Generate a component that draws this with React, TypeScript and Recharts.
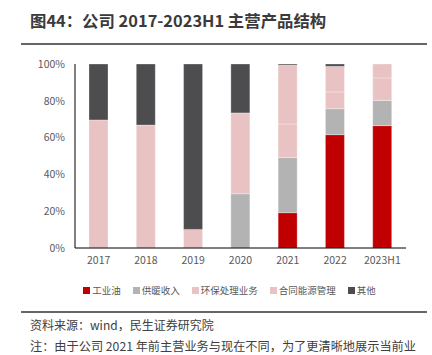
import { BarChart, Bar, XAxis, YAxis } from "recharts";

const years = ["2017", "2018", "2019", "2020", "2021", "2022", "2023H1"];
const industrialOil = [0, 0, 0, 0, 19.2, 61.6, 66.5];
const heating = [0, 0, 0, 29.5, 30.0, 14.1, 13.7];
const envTreatment = [69.6, 66.8, 10.1, 43.9, 18.2, 9.1, 12.2];
const energyContract = [0, 0, 0, 0, 32.0, 13.9, 7.6];
const others = [30.4, 33.2, 89.9, 26.6, 0.6, 1.3, 0];
const yTicks = [0, 20, 40, 60, 80, 100];

const data = years.map((year, i) => ({
  year,
  工业油: industrialOil[i],
  供暖收入: heating[i],
  环保处理业务: envTreatment[i],
  合同能源管理: energyContract[i],
  其他: others[i],
}));

const series = [
  { key: "工业油", color: "#C00000" },
  { key: "供暖收入", color: "#B3B3B3" },
  { key: "环保处理业务", color: "#E9C3C3" },
  { key: "合同能源管理", color: "#E9C3C3" },
  { key: "其他", color: "#4D4D4F" },
];

const font = '"Noto Sans CJK SC", "Noto Sans", sans-serif';

const App = () => {
  return (
    <div style={{ position: "absolute", left: 0, top: 0, width: 432, height: 355, background: "#fff", fontFamily: font }}>
      <div style={{ position: "absolute", left: 30, top: 8, fontSize: 16.4, fontWeight: 700, color: "#3a3a3a", whiteSpace: "nowrap" }}>
        图44：公司 2017-2023H1 主营产品结构
      </div>
      <div style={{ position: "absolute", left: 21, top: 43, width: 406, height: 2, background: "#666" }} />
      <div style={{ position: "absolute", left: 0, top: 0 }}>
        <BarChart width={432} height={280} data={data} margin={{ top: 64, right: 26, bottom: 12, left: 0 }} barSize={19}>
          <XAxis
            dataKey="year"
            tickLine={false}
            tickSize={0}
            tickMargin={9}
            stroke="#000"
            tick={{ fontSize: 10.5, fill: "#595959", fontFamily: font }}
            height={20}
          />
          <YAxis
            domain={[0, 100]}
            ticks={yTicks}
            tickFormatter={(v) => `${v}%`}
            tickLine={false}
            tickSize={0}
            tickMargin={10}
            stroke="#000"
            width={75}
            tick={{ fontSize: 10.5, fill: "#595959", fontFamily: font }}
          />
          {series.map((s) => (
            <Bar key={s.key} dataKey={s.key} stackId="a" fill={s.color} stroke="#fff" strokeWidth={0.3} isAnimationActive={false} />
          ))}
        </BarChart>
      </div>
      <div style={{ position: "absolute", left: 0, top: 283, width: 459, display: "flex", justifyContent: "center", fontSize: 9.5, color: "#595959", whiteSpace: "nowrap" }}>
        {series.map((s, i) => (
          <div key={s.key} style={{ display: "flex", alignItems: "center", marginRight: i === series.length - 1 ? 0 : 12 }}>
            <span style={{ display: "inline-block", width: 7, height: 7, background: s.color, marginRight: 2 }} />
            <span>{s.key}</span>
          </div>
        ))}
      </div>
      <div style={{ position: "absolute", left: 21, top: 311, width: 406, height: 2, background: "#666" }} />
      <div style={{ position: "absolute", left: 30, top: 316, fontSize: 12, color: "#404040", whiteSpace: "nowrap" }}>
        资料来源：wind，民生证券研究院
      </div>
      <div style={{ position: "absolute", left: 30, top: 337, fontSize: 12.2, color: "#404040", whiteSpace: "nowrap" }}>
        注：由于公司 2021 年前主营业务与现在不同，为了更清晰地展示当前业
      </div>
    </div>
  );
};

export default App;
